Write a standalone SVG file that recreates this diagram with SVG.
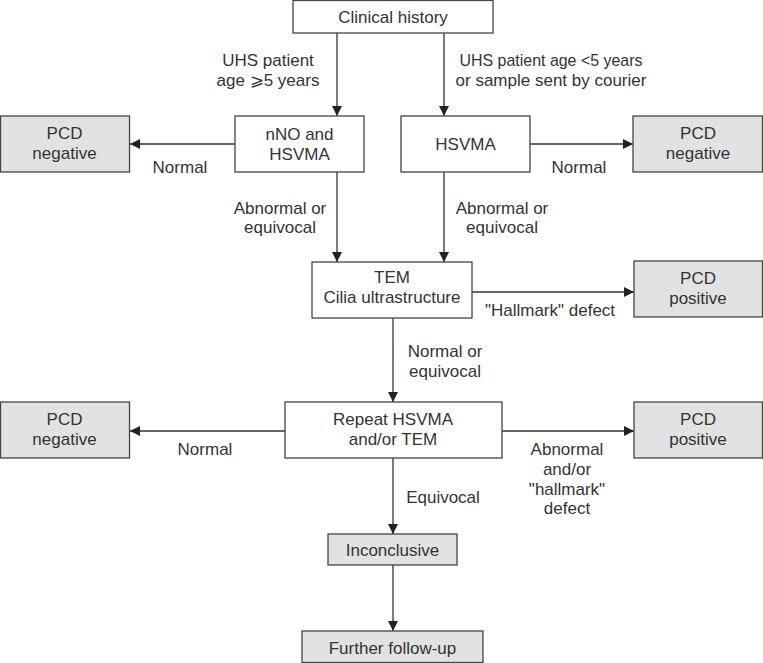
<svg xmlns="http://www.w3.org/2000/svg" width="763" height="663" viewBox="0 0 763 663">
<defs>
<style>
.box{fill:#ffffff;stroke:#444;stroke-width:1.3}
.grey{fill:#e2e2e2;stroke:#444;stroke-width:1.3}
text{font-family:"Liberation Sans",Arial,sans-serif;font-size:17px;fill:#333;text-anchor:middle;dominant-baseline:central}
.ln{stroke:#333;stroke-width:1.3;fill:none;marker-end:url(#ah)}
</style>
<marker id="ah" viewBox="0 0 10 10" refX="10" refY="5" markerWidth="10" markerHeight="10" markerUnits="userSpaceOnUse" orient="auto">
<path d="M0,0 L10,5 L0,10 z" fill="#222"/>
</marker>
</defs>
<rect width="763" height="663" fill="#fff"/>
<g id="connectors">
<line class="ln" x1="337" y1="33" x2="337" y2="116"/>
<line class="ln" x1="444" y1="33" x2="444" y2="116"/>
<line class="ln" x1="235" y1="144" x2="130" y2="144"/>
<line class="ln" x1="530" y1="144" x2="633" y2="144"/>
<line class="ln" x1="337" y1="172" x2="337" y2="262"/>
<line class="ln" x1="444" y1="172" x2="444" y2="262"/>
<line class="ln" x1="472" y1="292" x2="634" y2="292"/>
<line class="ln" x1="393" y1="318" x2="393" y2="402"/>
<line class="ln" x1="285" y1="431" x2="130" y2="431"/>
<line class="ln" x1="502" y1="431" x2="634" y2="431"/>
<line class="ln" x1="393" y1="458" x2="393" y2="534"/>
<line class="ln" x1="393" y1="565" x2="393" y2="631"/>
<text x="268" y="60">UHS patient</text>
<text x="268" y="80">age ⩾5 years</text>
<text x="551" y="60" textLength="183" lengthAdjust="spacingAndGlyphs">UHS patient age &lt;5 years</text>
<text x="551" y="80">or sample sent by courier</text>
<text x="180" y="167">Normal</text>
<text x="579" y="167">Normal</text>
<text x="280" y="208">Abnormal or</text>
<text x="280" y="227">equivocal</text>
<text x="502" y="208">Abnormal or</text>
<text x="502" y="227">equivocal</text>
<text x="550" y="310">"Hallmark" defect</text>
<text x="445" y="351">Normal or</text>
<text x="445" y="371">equivocal</text>
<text x="205" y="449">Normal</text>
<text x="567" y="449">Abnormal</text>
<text x="567" y="469">and/or</text>
<text x="567" y="489">"hallmark"</text>
<text x="567" y="508">defect</text>
<text x="443" y="497">Equivocal</text>
</g>
<g id="clinical-history">
<rect class="box" x="293" y="0.5" width="200" height="32.5"/>
<text x="393" y="17">Clinical history</text>
</g>
<g id="nno-hsvma">
<rect class="box" x="235" y="116" width="129" height="56"/>
<text x="299.5" y="134">nNO and</text>
<text x="299.5" y="154">HSVMA</text>
</g>
<g id="hsvma">
<rect class="box" x="401" y="116" width="129" height="56"/>
<text x="465.5" y="144">HSVMA</text>
</g>
<g id="pcd-negative-1">
<rect class="grey" x="0.5" y="116" width="129" height="56"/>
<text x="64.5" y="133">PCD</text>
<text x="64.5" y="153">negative</text>
</g>
<g id="pcd-negative-2">
<rect class="grey" x="633" y="116" width="129.5" height="56"/>
<text x="698" y="133">PCD</text>
<text x="698" y="153">negative</text>
</g>
<g id="tem">
<rect class="box" x="312" y="262" width="160" height="56"/>
<text x="392" y="277">TEM</text>
<text x="392" y="297">Cilia ultrastructure</text>
</g>
<g id="pcd-positive-1">
<rect class="grey" x="634" y="261" width="128.5" height="56"/>
<text x="698" y="278">PCD</text>
<text x="698" y="298">positive</text>
</g>
<g id="repeat">
<rect class="box" x="285" y="402" width="217" height="56"/>
<text x="393" y="419">Repeat HSVMA</text>
<text x="393" y="439">and/or TEM</text>
</g>
<g id="pcd-negative-3">
<rect class="grey" x="0.5" y="402" width="129" height="56"/>
<text x="64.5" y="419">PCD</text>
<text x="64.5" y="439">negative</text>
</g>
<g id="pcd-positive-2">
<rect class="grey" x="634" y="402" width="128.5" height="56"/>
<text x="698" y="419">PCD</text>
<text x="698" y="439">positive</text>
</g>
<g id="inconclusive">
<rect class="grey" x="328" y="534" width="129" height="31"/>
<text x="392.5" y="550">Inconclusive</text>
</g>
<g id="further-follow-up">
<rect class="grey" x="302" y="631" width="181" height="31.5"/>
<text x="392.5" y="648">Further follow-up</text>
</g>
</svg>
